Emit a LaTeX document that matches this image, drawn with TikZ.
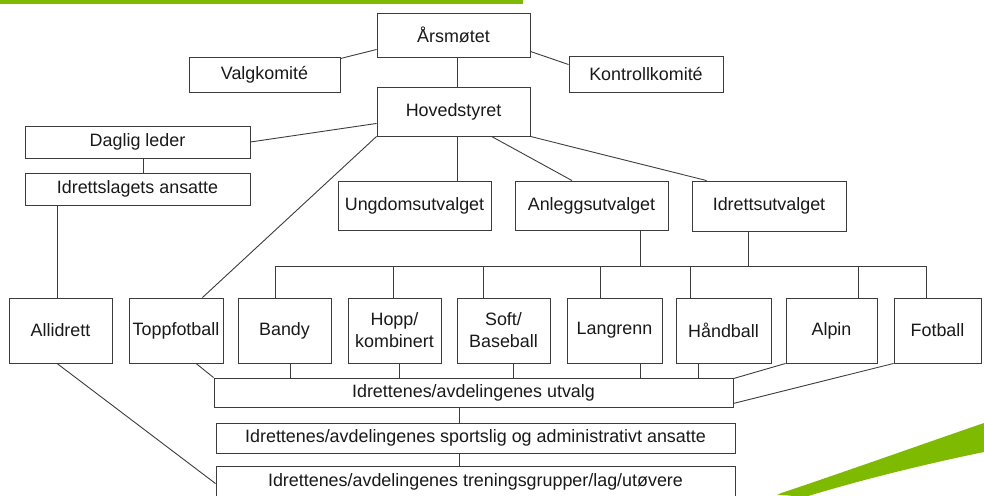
\documentclass[tikz,border=0pt]{standalone}
\usepackage{fontspec}
\setmainfont{Liberation Sans}
\usetikzlibrary{calc}
\definecolor{lgreen}{RGB}{126,186,0}
\definecolor{lineg}{RGB}{60,60,60}
\begin{document}
\begin{tikzpicture}[x=1pt,y=-1pt,
  box/.style={draw=lineg,line width=0.9pt,inner sep=0pt,align=center,
    font=\fontsize{17.9}{22}\selectfont,text=black!90},
  conn/.style={draw=lineg,line width=0.9pt}]
\useasboundingbox (0,0) rectangle (984,495);
\clip (0,0) rectangle (984,495);
% decorations
\fill[lgreen] (0,0) rectangle (523,4);
\fill[lgreen] (777,494.5) .. controls (850,470) and (920,445) .. (984,423)
  -- (984,452) .. controls (930,463) and (860,480) .. (805,497) -- cycle;
% top
\node[box,minimum width=153pt,minimum height=44pt] (ars) at (453.5,35) {Årsmøtet};
\node[box,minimum width=151pt,minimum height=35pt] (valg) at (264.5,74.5) {Valgkomité};
\node[box,minimum width=154pt,minimum height=36pt] (kontroll) at (646,74) {Kontrollkomité};
\node[box,minimum width=153pt,minimum height=49pt] (hoved) at (453.5,111.5) {Hovedstyret};
\node[box,minimum width=225pt,minimum height=32pt] (daglig) at (137.5,142) {Daglig leder};
\node[box,minimum width=225pt,minimum height=32pt] (ansatte) at (137.5,189) {Idrettslagets ansatte};
\node[box,minimum width=153pt,minimum height=49pt] (ungdom) at (414.5,205.5) {Ungdomsutvalget};
\node[box,minimum width=153pt,minimum height=49pt] (anlegg) at (591.5,205.5) {Anleggsutvalget};
\node[box,minimum width=154pt,minimum height=50pt] (idrett) at (769,206) {Idrettsutvalget};
% sports row
\node[box,minimum width=103pt,minimum height=65pt] (alli) at (60.5,330.5) {Allidrett};
\node[box,minimum width=94pt,minimum height=65pt] (topp) at (176,330.5) {Toppfotball};
\node[box,minimum width=93pt,minimum height=65pt] (bandy) at (284.5,330.5) {Bandy};
\node[box,minimum width=93pt,minimum height=65pt] (hopp) at (394.5,330.5) {Hopp/\\kombinert};
\node[box,minimum width=93pt,minimum height=65pt] (soft) at (503.5,330.5) {Soft/\\Baseball};
\node[box,minimum width=95pt,minimum height=65pt] (lang) at (614.5,330.5) {Langrenn};
\node[box,minimum width=95pt,minimum height=65pt] (hand) at (723.5,330.5) {Håndball};
\node[box,minimum width=91pt,minimum height=65pt] (alpin) at (831.5,330.5) {Alpin};
\node[box,minimum width=87pt,minimum height=65pt] (fot) at (937.5,330.5) {Fotball};
% bottom
\node[box,minimum width=519pt,minimum height=29pt] (utvalg) at (473.5,392.5) {Idrettenes/avdelingenes utvalg};
\node[box,minimum width=519pt,minimum height=30pt] (sport) at (475.5,438) {Idrettenes/avdelingenes sportslig og administrativt ansatte};
\node[box,minimum width=519pt,minimum height=31pt] (tren) at (475.5,481.5) {Idrettenes/avdelingenes treningsgrupper/lag/utøvere};
\coordinate (bus) at (600,266);
% connectors top
\draw[conn] ([yshift=-2pt]valg.north east) -- ([yshift=8pt]ars.south west);
\draw[conn] ([yshift=6pt]ars.south east) -- ([yshift=-9pt]kontroll.north west);
\draw[conn] ([xshift=3.5pt]ars.south) -- ([xshift=3.5pt]hoved.north);
\draw[conn] ([yshift=13pt]hoved.south west) -- (daglig.east);
\draw[conn] (hoved.south west) -- ([xshift=-21pt]topp.north east);
\draw[conn] ([xshift=3.5pt]hoved.south) -- ([xshift=3.5pt]hoved.south |- ungdom.north);
\draw[conn] ([xshift=115pt]hoved.south west) -- ([xshift=-19.5pt]anlegg.north);
\draw[conn] (hoved.south east) -- ([xshift=15pt]idrett.north west);
\draw[conn] ([xshift=5.5pt]daglig.south) -- ([xshift=5.5pt]ansatte.north);
\draw[conn] ([xshift=-3.5pt]alli.north) -- ([xshift=-3.5pt]alli.north |- ansatte.south);
% bus
\draw[conn] ([xshift=-9.5pt]bandy.north |- bus) -- ([xshift=-11.5pt]fot.north |- bus);
\draw[conn] ([xshift=48.5pt]anlegg.south) -- ([xshift=48.5pt]anlegg.south |- bus);
\draw[conn] ([xshift=-21pt]idrett.south) -- ([xshift=-21pt]idrett.south |- bus);
\foreach \n/\d in {bandy/-9.5,hopp/-1.5,soft/-20.5,lang/-14.5,hand/-33.5,alpin/26.5,fot/-11.5}
  \draw[conn] ([xshift=\d pt]\n.north) -- ([xshift=\d pt]\n.north |- bus);
% to utvalg
\foreach \n/\d in {bandy/5.5,hopp/4.5,soft/9.5,lang/25.5,hand/-25.5}
  \draw[conn] ([xshift=\d pt]\n.south) -- ([xshift=\d pt]\n.south |- utvalg.north);
\draw[conn] ([xshift=20pt]topp.south) -- (utvalg.north west);
\draw[conn] (alpin.south west) -- ([yshift=-1pt]utvalg.north east);
\draw[conn] (fot.south west) -- ([yshift=4pt]utvalg.south east);
\draw[conn] ([xshift=-16.5pt]sport.north |- utvalg.south) -- ([xshift=-16.5pt]sport.north);
\draw[conn] ([xshift=-16.5pt]sport.south) -- ([xshift=-16.5pt]tren.north);
\draw[conn] ([xshift=-3.5pt]alli.south) -- ([yshift=-18pt]tren.north west);
\end{tikzpicture}
\end{document}
